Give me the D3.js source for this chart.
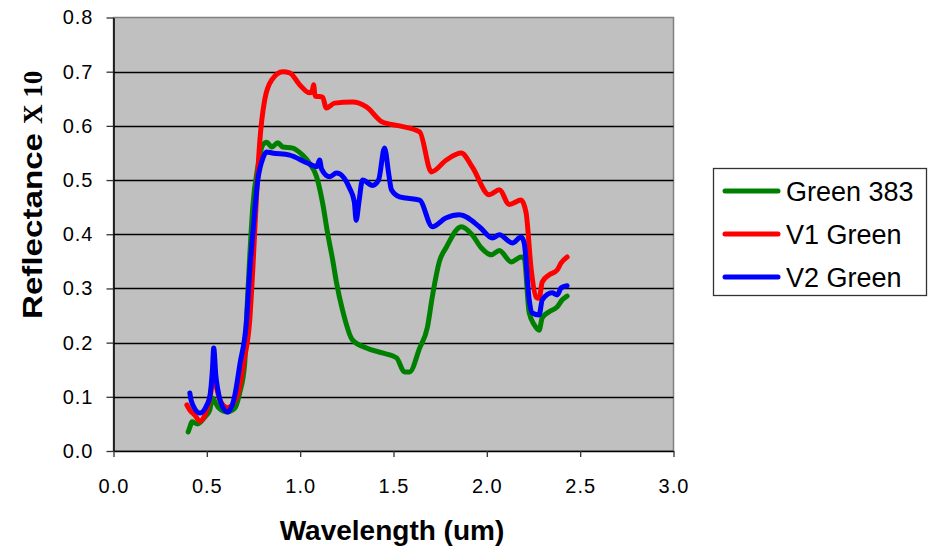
<!DOCTYPE html>
<html>
<head>
<meta charset="utf-8">
<script src="https://cdn.jsdelivr.net/npm/d3@7"></script>
<style>
  body { margin: 0; background: #fff; }
  svg { display: block; }
  .tick text { font-family: "Liberation Sans", Arial, sans-serif; font-size: 20px; fill: #000; letter-spacing: 1px; }
</style>
</head>
<body>
<svg id="chart" width="937" height="548"></svg>
<script>
// values (wavelength in um, reflectance x 10)
var seriesNames = ['Green 383', 'V1 Green', 'V2 Green'];
var seriesColors = ['#008000', '#ff0000', '#0000ff'];

var greenWl = [0.40, 0.41, 0.42, 0.45, 0.49, 0.516, 0.53, 0.545, 0.56, 0.607, 0.65, 0.676, 0.703, 0.713, 0.73, 0.746, 0.773, 0.80, 0.82, 0.848, 0.88, 0.907, 0.96, 1.013, 1.05, 1.088, 1.12, 1.147, 1.174, 1.195, 1.227, 1.28, 1.355, 1.44, 1.516, 1.559, 1.586, 1.64, 1.682, 1.708, 1.746, 1.783, 1.863, 1.922, 1.97, 2.024, 2.067, 2.13, 2.184, 2.2, 2.227, 2.254, 2.28, 2.297, 2.334, 2.377, 2.404, 2.43];
var greenRefl = [0.035, 0.045, 0.054, 0.050, 0.063, 0.076, 0.098, 0.090, 0.081, 0.072, 0.079, 0.107, 0.162, 0.247, 0.36, 0.45, 0.524, 0.565, 0.57, 0.561, 0.569, 0.561, 0.559, 0.546, 0.531, 0.506, 0.458, 0.402, 0.353, 0.31, 0.26, 0.205, 0.19, 0.181, 0.172, 0.146, 0.146, 0.19, 0.229, 0.285, 0.35, 0.376, 0.414, 0.399, 0.375, 0.362, 0.37, 0.349, 0.358, 0.355, 0.255, 0.233, 0.223, 0.246, 0.257, 0.266, 0.279, 0.286];

var v1Wl = [0.393, 0.41, 0.436, 0.463, 0.50, 0.52, 0.535, 0.55, 0.57, 0.612, 0.665, 0.70, 0.73, 0.746, 0.767, 0.783, 0.81, 0.848, 0.907, 0.944, 0.997, 1.051, 1.065, 1.072, 1.08, 1.12, 1.14, 1.184, 1.28, 1.355, 1.44, 1.532, 1.64, 1.703, 1.783, 1.863, 1.922, 2.013, 2.067, 2.12, 2.184, 2.21, 2.238, 2.264, 2.28, 2.297, 2.334, 2.377, 2.398, 2.43];
var v1Refl = [0.085, 0.075, 0.066, 0.055, 0.076, 0.105, 0.137, 0.12, 0.094, 0.08, 0.103, 0.168, 0.242, 0.334, 0.476, 0.568, 0.648, 0.685, 0.70, 0.698, 0.676, 0.661, 0.665, 0.676, 0.655, 0.653, 0.633, 0.642, 0.644, 0.635, 0.607, 0.60, 0.589, 0.515, 0.537, 0.55, 0.524, 0.473, 0.482, 0.455, 0.463, 0.44, 0.334, 0.284, 0.282, 0.312, 0.325, 0.334, 0.347, 0.358];

var v2Wl = [0.409, 0.415, 0.425, 0.463, 0.50, 0.516, 0.53, 0.537, 0.548, 0.559, 0.58, 0.612, 0.65, 0.677, 0.713, 0.73, 0.746, 0.773, 0.80, 0.82, 0.85, 0.944, 1.035, 1.09, 1.104, 1.115, 1.158, 1.195, 1.265, 1.29, 1.30, 1.315, 1.334, 1.388, 1.42, 1.452, 1.475, 1.489, 1.532, 1.64, 1.708, 1.78, 1.853, 1.96, 2.03, 2.067, 2.137, 2.184, 2.2, 2.227, 2.243, 2.28, 2.297, 2.35, 2.377, 2.398, 2.43];
var v2Refl = [0.107, 0.095, 0.085, 0.070, 0.085, 0.10, 0.15, 0.19, 0.14, 0.113, 0.085, 0.072, 0.103, 0.16, 0.242, 0.334, 0.40, 0.50, 0.54, 0.552, 0.55, 0.546, 0.532, 0.525, 0.537, 0.52, 0.506, 0.513, 0.485, 0.46, 0.426, 0.46, 0.50, 0.49, 0.50, 0.559, 0.51, 0.482, 0.469, 0.463, 0.414, 0.43, 0.436, 0.414, 0.393, 0.399, 0.384, 0.395, 0.384, 0.279, 0.255, 0.251, 0.279, 0.292, 0.288, 0.301, 0.305];

var xTicks = [0, 0.5, 1.0, 1.5, 2.0, 2.5, 3.0];
var yTicks = [0, 0.1, 0.2, 0.3, 0.4, 0.5, 0.6, 0.7, 0.8];

var series = [
	{name: seriesNames[0], wl: greenWl, refl: greenRefl},
	{name: seriesNames[1], wl: v1Wl, refl: v1Refl},
	{name: seriesNames[2], wl: v2Wl, refl: v2Refl}
];

var svg = d3.select('#chart');

var x = d3.scaleLinear().domain([0, 3]).range([113.5, 673.5]);
var y = d3.scaleLinear().domain([0, 0.8]).range([451, 17.5]);

// plot area
svg.append('rect')
	.attr('x', x(0))
	.attr('y', y(0.8))
	.attr('width', x(3) - x(0))
	.attr('height', y(0) - y(0.8))
	.attr('fill', '#c0c0c0')
	.attr('stroke', '#808080')
	.attr('stroke-width', 1.5);

// grid lines
svg.append('g')
	.selectAll('line')
		.data(yTicks.filter(d => d > 0 && d < 0.8))
	.enter()
	.append('line')
		.attr('x1', x(0))
		.attr('x2', x(3))
		.attr('y1', d => Math.round(y(d)) + 0.5)
		.attr('y2', d => Math.round(y(d)) + 0.5)
		.attr('stroke', '#000')
		.attr('stroke-width', 1.3);

svg.append('g')
	.attr('transform', 'translate(' + x(0) + ',0)')
	.call(d3.axisLeft(y)
		.tickValues(yTicks)
		.tickFormat(d3.format('.1f'))
		.tickSize(7)
		.tickSizeOuter(0)
		.tickPadding(13));

svg.append('g')
	.attr('transform', 'translate(0,' + y(0) + ')')
	.call(d3.axisBottom(x)
		.tickValues(xTicks)
		.tickFormat(d3.format('.1f'))
		.tickSize(6)
		.tickSizeOuter(0)
		.tickPadding(22));

svg.selectAll('.domain').attr('stroke', '#000').attr('stroke-width', 1.5);
svg.selectAll('.tick line').attr('stroke', '#333').attr('stroke-width', 1.3);

// data lines, green first so blue ends on top
var line = d3.line()
	.curve(d3.curveMonotoneX)
	.x(d => x(d[0]))
	.y(d => y(d[1]));

svg.append('g')
	.selectAll('path')
		.data(series)
	.enter()
	.append('path')
		.attr('d', d => line(d.wl.map((w, i) => [w, d.refl[i]])))
		.attr('fill', 'none')
		.attr('stroke', (d, i) => seriesColors[i])
		.attr('stroke-width', 5)
		.attr('stroke-linejoin', 'round')
		.attr('stroke-linecap', 'round');

// axis titles
svg.append('text')
	.attr('x', 392)
	.attr('y', 540)
	.attr('text-anchor', 'middle')
	.style('font-family', '"Liberation Sans", Arial, sans-serif')
	.style('font-size', '28px')
	.style('font-weight', 'bold')
	.text('Wavelength (um)');

svg.append('text')
	.attr('transform', 'translate(42,319) rotate(-90)')
	.attr('textLength', 186)
	.attr('lengthAdjust', 'spacingAndGlyphs')
	.style('font-family', '"Liberation Sans", Arial, sans-serif')
	.style('font-size', '28px')
	.style('font-weight', 'bold')
	.text('Reflectance');

svg.append('text')
	.attr('transform', 'translate(42,124) rotate(-90)')
	.style('font-family', '"Liberation Serif", "Times New Roman", serif')
	.style('font-size', '27px')
	.style('font-weight', 'bold')
	.text('X 10');

// legend
var legend = svg.append('g');

legend.append('rect')
	.attr('x', 713.5)
	.attr('y', 168.5)
	.attr('width', 213)
	.attr('height', 127)
	.attr('fill', '#fff')
	.attr('stroke', '#333')
	.attr('stroke-width', 1.3);

var legendRows = legend.selectAll('g.row')
		.data(seriesNames)
	.enter()
	.append('g')
		.attr('class', 'row')
		.attr('transform', (d, i) => 'translate(0,' + (191 + i * 43) + ')');

legendRows.append('line')
	.attr('x1', 725)
	.attr('x2', 778)
	.attr('stroke', (d, i) => seriesColors[i])
	.attr('stroke-width', 5)
	.attr('stroke-linecap', 'round');

legendRows.append('text')
	.attr('x', 786)
	.attr('y', 10)
	.style('font-family', '"Liberation Sans", Arial, sans-serif')
	.style('font-size', '27px')
	.text(d => d);
</script>
</body>
</html>
